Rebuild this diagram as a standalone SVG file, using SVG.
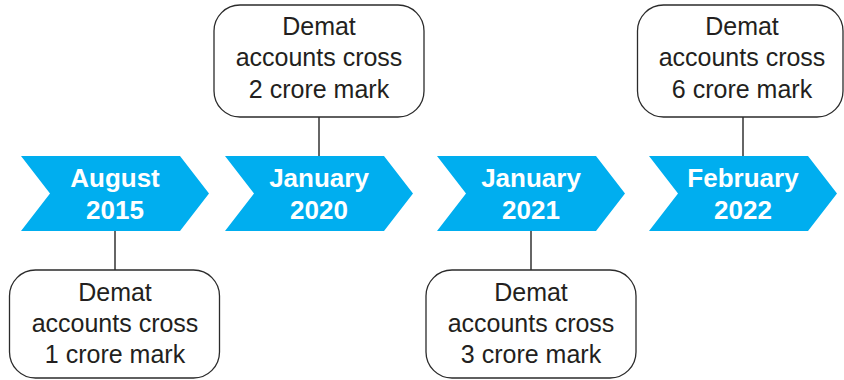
<svg xmlns="http://www.w3.org/2000/svg" width="844" height="380" viewBox="0 0 844 380">
<style>
.chev{fill:#00AEEF}
.ct{font-family:"Liberation Sans",Arial,sans-serif;font-weight:bold;font-size:26px;fill:#fff;text-anchor:middle}
.box{fill:#fff;stroke:#2b2b2b;stroke-width:1.3}
.bt{font-family:"Liberation Sans",Arial,sans-serif;font-size:25px;fill:#231f20;text-anchor:middle}
.con{stroke:#333;stroke-width:1.5;fill:none}
</style>
<rect width="844" height="380" fill="#fff"/>
<g id="connectors">
<line class="con" x1="115" y1="231" x2="115" y2="270"/>
<line class="con" x1="319" y1="117" x2="319" y2="156"/>
<line class="con" x1="531" y1="231" x2="531" y2="270"/>
<line class="con" x1="743" y1="117" x2="743" y2="156"/>
</g>
<g id="chev1">
<polygon class="chev" points="21,156 180,156 209,193.5 180,231 21,231 50,193.5"/>
<text class="ct" x="115" y="187">August</text>
<text class="ct" x="115" y="219">2015</text>
</g>
<g id="chev2">
<polygon class="chev" points="225,156 384,156 413,193.5 384,231 225,231 254,193.5"/>
<text class="ct" x="319" y="187">January</text>
<text class="ct" x="319" y="219">2020</text>
</g>
<g id="chev3">
<polygon class="chev" points="437,156 596,156 625,193.5 596,231 437,231 466,193.5"/>
<text class="ct" x="531" y="187">January</text>
<text class="ct" x="531" y="219">2021</text>
</g>
<g id="chev4">
<polygon class="chev" points="649,156 808,156 837,193.5 808,231 649,231 678,193.5"/>
<text class="ct" x="743" y="187">February</text>
<text class="ct" x="743" y="219">2022</text>
</g>
<g id="box1">
<rect class="box" x="9.5" y="270" width="210" height="108" rx="26"/>
<text class="bt" x="115" y="301">Demat</text>
<text class="bt" x="115" y="332">accounts cross</text>
<text class="bt" x="115" y="363">1 crore mark</text>
</g>
<g id="box2">
<rect class="box" x="214" y="5" width="210" height="112" rx="26"/>
<text class="bt" x="319" y="35">Demat</text>
<text class="bt" x="319" y="66">accounts cross</text>
<text class="bt" x="319" y="98">2 crore mark</text>
</g>
<g id="box3">
<rect class="box" x="426" y="270" width="210" height="108" rx="26"/>
<text class="bt" x="531" y="301">Demat</text>
<text class="bt" x="531" y="332">accounts cross</text>
<text class="bt" x="531" y="363">3 crore mark</text>
</g>
<g id="box4">
<rect class="box" x="637.5" y="5" width="205.5" height="112" rx="26"/>
<text class="bt" x="742" y="35">Demat</text>
<text class="bt" x="742" y="66">accounts cross</text>
<text class="bt" x="742" y="98">6 crore mark</text>
</g>
</svg>
